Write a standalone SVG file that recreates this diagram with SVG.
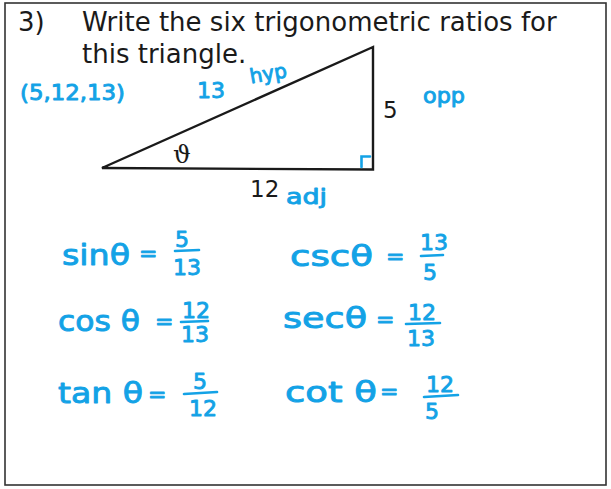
<svg xmlns="http://www.w3.org/2000/svg" width="611" height="489" viewBox="0 0 611 489">
<style>
.pr{font-family:"DejaVu Sans",Verdana,sans-serif;fill:#1a1a1a}
.hw{font-family:"DejaVu Sans","Liberation Sans",sans-serif;fill:#13a2e6;stroke:#13a2e6;stroke-width:0.9;stroke-linejoin:round}
.bar{stroke:#13a2e6;stroke-width:2.6;stroke-linecap:round;fill:none}
.fr{font-size:22px;text-anchor:middle}
.nm{font-size:29px}
.eq{font-size:22px}
</style>
<rect x="0" y="0" width="611" height="489" fill="#fff"/>
<rect id="frame" x="5" y="3" width="601" height="482" fill="none" stroke="#333" stroke-width="1.6"/>
<g id="question">
<text class="pr" x="18" y="31" font-size="26">3)</text>
<text class="pr" x="82" y="31" font-size="26">Write the six trigonometric ratios for</text>
<text class="pr" x="82" y="63" font-size="26">this triangle.</text>
</g>
<g id="triangle">
<polygon points="102,168 373,47 373,169.5" fill="none" stroke="#1a1a1a" stroke-width="2.4" stroke-linejoin="miter"/>
<path d="M361.5,167 V156.5 H370" class="bar"/>
<text x="173" y="163" font-family="DejaVu Serif,serif" font-size="25" fill="#1a1a1a">ϑ</text>
<text class="pr" x="383" y="118" font-size="23">5</text>
<text class="pr" x="250" y="197" font-size="23">12</text>
</g>
<g id="annotations">
<text class="hw" x="20" y="100" font-size="21" textLength="105" lengthAdjust="spacingAndGlyphs">(5,12,13)</text>
<text class="hw" x="197" y="98" font-size="22">13</text>
<text class="hw" x="250" y="80" font-size="20" transform="rotate(-10 270 76)">hyp</text>
<text class="hw" x="423" y="103" font-size="21" textLength="42" lengthAdjust="spacingAndGlyphs">opp</text>
<text class="hw" x="286" y="204" font-size="21" textLength="41" lengthAdjust="spacingAndGlyphs">adj</text>
</g>
<g id="sin">
<text class="hw nm" x="62" y="265" textLength="68" lengthAdjust="spacingAndGlyphs">sinθ</text>
<text class="hw eq" x="139" y="261">=</text>
<text class="hw fr" x="182" y="247">5</text>
<path class="bar" d="M175,251 L199,250"/>
<text class="hw fr" x="187" y="275">13</text>
</g>
<g id="csc">
<text class="hw nm" x="290" y="266" textLength="83" lengthAdjust="spacingAndGlyphs">cscθ</text>
<text class="hw eq" x="386" y="264" font-size="18">=</text>
<text class="hw fr" x="434" y="250">13</text>
<path class="bar" d="M421,256 L443,255"/>
<text class="hw fr" x="430" y="280">5</text>
</g>
<g id="cos">
<text class="hw nm" x="58" y="331" textLength="82" lengthAdjust="spacingAndGlyphs">cos θ</text>
<text class="hw eq" x="155" y="329">=</text>
<text class="hw fr" x="196" y="318">12</text>
<path class="bar" d="M181,322 L208,321"/>
<text class="hw fr" x="195" y="342">13</text>
</g>
<g id="sec">
<text class="hw nm" x="283" y="328" textLength="84" lengthAdjust="spacingAndGlyphs">secθ</text>
<text class="hw eq" x="376" y="327" font-size="19">=</text>
<text class="hw fr" x="422" y="320">12</text>
<path class="bar" d="M406,324 L440,323"/>
<text class="hw fr" x="421" y="346">13</text>
</g>
<g id="tan">
<text class="hw nm" x="58" y="403" textLength="85" lengthAdjust="spacingAndGlyphs">tan θ</text>
<text class="hw eq" x="148" y="402">=</text>
<text class="hw fr" x="200" y="389">5</text>
<path class="bar" d="M184,394 L217,392"/>
<text class="hw fr" x="203" y="416">12</text>
</g>
<g id="cot">
<text class="hw nm" x="285" y="402" textLength="92" lengthAdjust="spacingAndGlyphs">cot θ</text>
<text class="hw eq" x="380" y="399">=</text>
<text class="hw fr" x="440" y="392">12</text>
<path class="bar" d="M424,397 L458,395"/>
<text class="hw fr" x="432" y="419">5</text>
</g>
</svg>
